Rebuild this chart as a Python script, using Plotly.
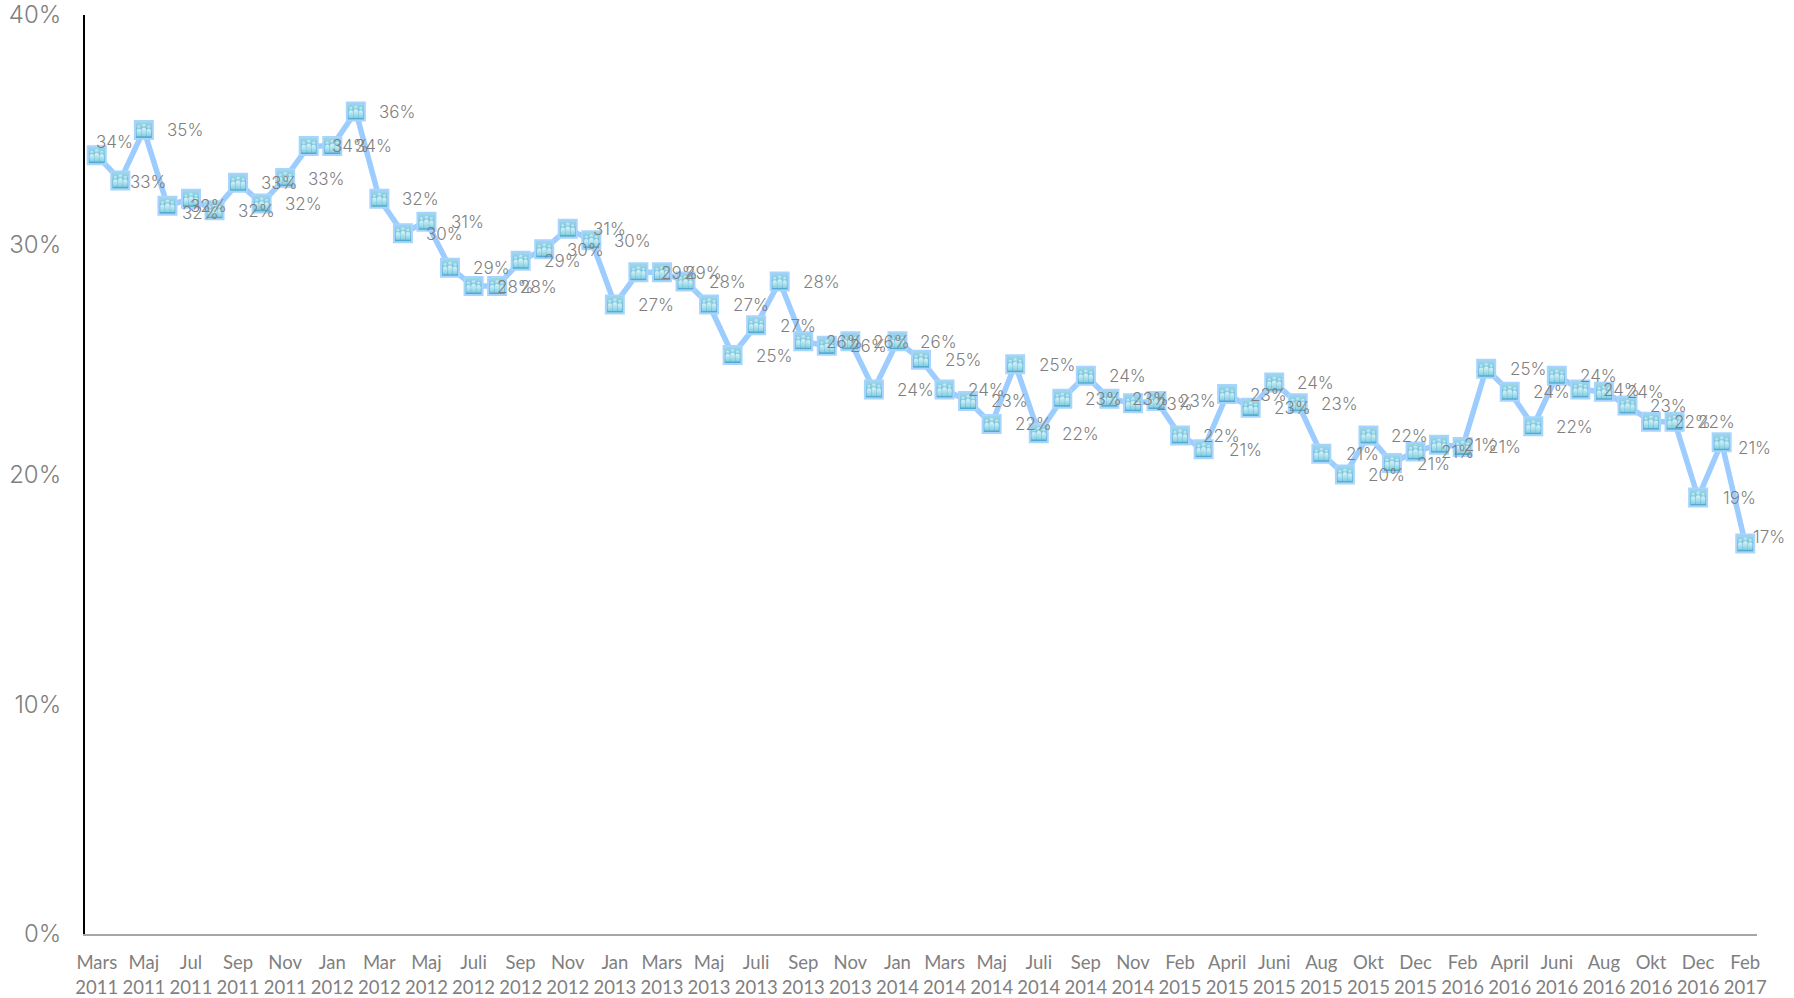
import base64
import plotly.graph_objects as go

months = ["Mars","Maj","Jul","Sep","Nov","Jan","Mar","Maj","Juli","Sep","Nov","Jan","Mars","Maj","Juli","Sep","Nov","Jan",
          "Mars","Maj","Juli","Sep","Nov","Feb","April","Juni","Aug","Okt","Dec","Feb","April","Juni","Aug","Okt","Dec","Feb"]
years = [2011,2011,2011,2011,2011,2012,2012,2012,2012,2012,2012,2013,2013,2013,2013,2013,2013,2014,
         2014,2014,2014,2014,2014,2015,2015,2015,2015,2015,2015,2016,2016,2016,2016,2016,2016,2017]
values = [33.9,32.8,35.0,31.7,32.0,31.5,32.7,31.8,32.9,34.3,34.3,35.8,32.0,30.5,31.0,29.0,28.2,28.2,29.3,29.8,30.7,30.2,
          27.4,28.8,28.8,28.4,27.4,25.2,26.5,28.4,25.8,25.6,25.8,23.7,25.8,25.0,23.7,23.2,22.2,24.8,21.8,23.3,24.3,23.3,
          23.1,23.2,21.7,21.1,23.5,22.9,24.0,23.1,20.9,20.0,21.7,20.5,21.0,21.3,21.2,24.6,23.6,22.1,24.3,23.7,23.6,23.0,
          22.3,22.3,19.0,21.4,17.0]
label_text = ["34%","33%","35%","32%","32%","32%","33%","32%","33%","34%","34%","36%","32%","30%","31%","29%","28%","28%",
              "29%","30%","31%","30%","27%","29%","29%","28%","27%","25%","27%","28%","26%","26%","26%","24%","26%","25%",
              "24%","23%","22%","25%","22%","23%","24%","23%","23%","23%","22%","21%","23%","23%","24%","23%","21%","20%",
              "22%","21%","21%","21%","21%","25%","24%","22%","24%","24%","24%","23%","22%","22%","19%","21%","17%"]

x = list(range(len(values)))
tickvals = x[::2]

# label offsets (px) from each marker; most sit the same distance to the right
DX, DY = 41.5, 0.5
overrides = {0: (18, -13), 1: (28, 2), 4: (10, 14), 69: (33, 6), 70: (24, -6)}

svg = """<svg xmlns='http://www.w3.org/2000/svg' width='40' height='40' viewBox='0 0 40 40'>
<defs>
<linearGradient id='g' x1='0' y1='0' x2='0' y2='1'><stop offset='0' stop-color='#9fd8ea'/><stop offset='1' stop-color='#4fa9cd'/></linearGradient>
<linearGradient id='p' x1='0' y1='0' x2='0' y2='1'><stop offset='0' stop-color='#d8f3f8'/><stop offset='1' stop-color='#84cfe2'/></linearGradient>
</defs>
<rect width='40' height='40' fill='url(#g)'/>
<g fill='url(#p)'>
<circle cx='7.5' cy='13' r='4'/><path d='M2 36V23q0-6 5.5-6t5.5 6V36z'/>
<circle cx='32.5' cy='13' r='4'/><path d='M27 36V23q0-6 5.5-6t5.5 6V36z'/>
<circle cx='20' cy='10' r='4.6'/><path d='M14 36V21q0-6.500 6-6.500t6 6.500V36z'/>
</g></svg>"""
icon = "data:image/svg+xml;base64," + base64.b64encode(svg.encode()).decode()

fig = go.Figure()
fig.add_trace(go.Scatter(
    x=x, y=values, mode="lines+markers", showlegend=False, hoverinfo="skip",
    line=dict(color="#9dcdff", width=5.5),
    marker=dict(symbol="square", size=18, color="#8ccfe4", line=dict(color="#a8d4ff", width=2)),
))

for i, v in enumerate(values):
    fig.add_layout_image(source=icon, xref="x", yref="y", x=i, y=v, sizex=0.68, sizey=0.7,
                         xanchor="center", yanchor="middle", sizing="stretch", layer="above")
    dx, dy = overrides.get(i, (DX, DY))
    fig.add_annotation(x=i, y=v, xref="x", yref="y", text=label_text[i], showarrow=False,
                       xshift=dx, yshift=-dy, xanchor="center", yanchor="middle",
                       font=dict(family="Inter", size=17, color="#7f7f7f", weight=300))

small = "<span style='font-size:18.5px'>%s</span>"
ticktext = [small % m + "<br>" + small % y for m, y in zip(months, years)]

fig.update_layout(
    width=1794, height=998, autosize=False,
    margin=dict(l=85, r=37, t=15, b=64),
    paper_bgcolor="white", plot_bgcolor="white", showlegend=False,
    xaxis=dict(range=[-0.5, 70.5], tickmode="array", tickvals=tickvals, ticktext=ticktext, automargin=False,
               tickfont=dict(family="Lato", size=19, color="#7f7f7f"), tickangle=0,
               showgrid=False, zeroline=False, showline=True, linecolor="#a6a6a6", linewidth=2,
               ticks="", ticklabelstandoff=10),
    yaxis=dict(range=[0, 40], tickmode="array", tickvals=[0, 10, 20, 30, 40], automargin=False,
               ticktext=["0%", "10%", "20%", "30%", "40%"],
               tickfont=dict(family="Inter", size=24, color="#7f7f7f", weight=300),
               showgrid=False, zeroline=False, showline=True, linecolor="#000000", linewidth=2,
               ticks="", ticklabelstandoff=17),
)

fig.write_html("out.html", config={"displayModeBar": False},
               post_script="document.body.style.margin='0';document.body.style.overflow='hidden';")
